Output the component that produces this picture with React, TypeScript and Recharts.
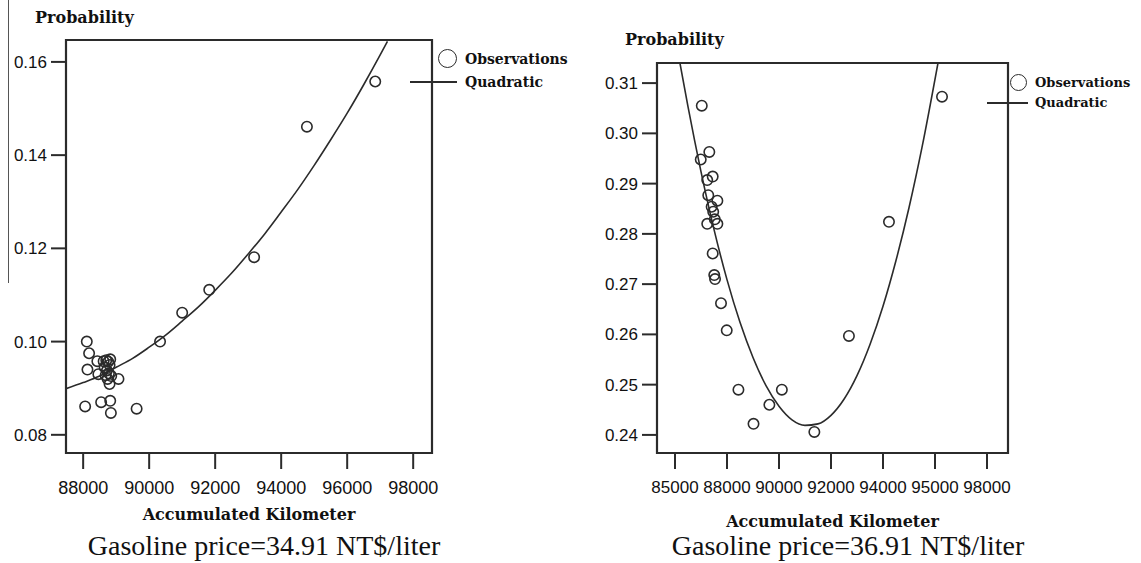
import React from "react";
import {
  ComposedChart,
  Scatter,
  Line,
  XAxis,
  YAxis,
  ReferenceArea,
} from "recharts";

// left panel: gasoline price 34.91
const LEFT_OBS_KM = [
  88110, 88180, 88130, 88430, 88460, 88620, 88700, 88760, 88820, 88650,
  88720, 88800, 88680, 88780, 88850, 88740, 89070, 88800, 88060, 88545,
  88820, 88840, 89620, 90330, 91000, 91820, 93180, 94780, 96850,
];
const LEFT_OBS_P = [
  0.1, 0.0975, 0.094, 0.0958, 0.093, 0.0958, 0.096, 0.0957, 0.0962, 0.0945,
  0.0938, 0.095, 0.0928, 0.0932, 0.0926, 0.092, 0.092, 0.0909, 0.0861, 0.087,
  0.0873, 0.0847, 0.0856, 0.1, 0.1062, 0.1111, 0.1181, 0.1461, 0.1558,
];
const LEFT_FIT_KM = [
  87480, 88000, 88500, 89000, 89500, 90000, 90500, 91000, 91500, 92000,
  92500, 93000, 93500, 94000, 94500, 95000, 95500, 96000, 96500, 97000, 97220,
];
const LEFT_FIT_P = [
  0.0899, 0.0912, 0.0926, 0.0945, 0.0964, 0.0988, 0.1014, 0.1044, 0.1075,
  0.111, 0.1147, 0.1188, 0.1231, 0.1278, 0.1326, 0.1378, 0.1433, 0.149,
  0.1551, 0.1615, 0.1644,
];
const LEFT_X_TICKS = [88000, 90000, 92000, 94000, 96000, 98000];
const LEFT_Y_TICKS = [0.08, 0.1, 0.12, 0.14, 0.16];

// right panel: gasoline price 36.91
const RIGHT_OBS_KM = [
  87030, 87320, 86990, 87450, 87240, 87280, 87630, 87410, 87470, 87240,
  87630, 87530, 87450, 87510, 87540, 87770, 87990, 88440, 89020, 89630,
  90110, 91360, 92690, 94230, 96270,
];
const RIGHT_OBS_P = [
  0.3055, 0.2963, 0.2948, 0.2914, 0.2907, 0.2877, 0.2866, 0.2854, 0.2844,
  0.282, 0.282, 0.2829, 0.2761, 0.2718, 0.271, 0.2662, 0.2608, 0.249, 0.2422,
  0.246, 0.249, 0.2406, 0.2597, 0.2824, 0.3073,
];
const RIGHT_FIT_KM = [
  86190, 86500, 87000, 87500, 88000, 88500, 89000, 89500, 90000, 90500,
  91000, 91500, 92000, 92500, 93000, 93500, 94000, 94500, 95000, 95500, 96115,
];
const RIGHT_FIT_P = [
  0.314, 0.3053, 0.2924, 0.2809, 0.2709, 0.2624, 0.2554, 0.2498, 0.2457,
  0.243, 0.2419, 0.2422, 0.2439, 0.2471, 0.2518, 0.258, 0.2656, 0.2747,
  0.2852, 0.2972, 0.314,
];
const RIGHT_X_TICKS = [86000, 88000, 90000, 92000, 94000, 96000, 98000];
const RIGHT_X_LABELS = ["85000", "88000", "90000", "92000", "94000", "95000", "98000"];
const RIGHT_Y_TICKS = [0.24, 0.25, 0.26, 0.27, 0.28, 0.29, 0.3, 0.31];

const INK = "#2b2b2b";
const SERIF_BOLD = "'DejaVu Serif', serif";

const zip = (km: number[], p: number[]) => km.map((k, i) => ({ km: k, p: p[i] }));

const Ring = (props: any) => (
  <circle cx={props.cx} cy={props.cy} r={5.2} fill="none" stroke={INK} strokeWidth={1.6} />
);

interface PanelProps {
  obs: { km: number; p: number }[];
  fit: { km: number; p: number }[];
  xDomain: [number, number];
  yDomain: [number, number];
  xTicks: number[];
  yTicks: number[];
  xFmt: (v: number) => string;
  width: number;
  margin: { top: number; right: number; left: number; bottom: number };
  yWidth: number;
  xFont: number;
}

function Panel({ obs, fit, xDomain, yDomain, xTicks, yTicks, xFmt, width, margin, yWidth, xFont }: PanelProps) {
  return (
    <ComposedChart width={width} height={500} margin={margin}>
      <XAxis
        dataKey="km"
        type="number"
        domain={xDomain}
        ticks={xTicks}
        allowDataOverflow
        axisLine={false}
        tickLine={{ stroke: INK, strokeWidth: 2 }}
        tickSize={16}
        tickMargin={12}
        height={40}
        tickFormatter={xFmt}
        tick={{ fontSize: xFont, fill: "#111", fontFamily: "'Liberation Sans', Arial, sans-serif" }}
        interval={0}
      />
      <YAxis
        dataKey="p"
        type="number"
        domain={yDomain}
        ticks={yTicks}
        allowDataOverflow
        axisLine={false}
        tickLine={{ stroke: INK, strokeWidth: 2 }}
        tickSize={15}
        tickMargin={4}
        width={yWidth}
        tickFormatter={(v: number) => v.toFixed(2)}
        tick={{ fontSize: 17, fill: "#111", fontFamily: "'Liberation Sans', Arial, sans-serif" }}
        interval={0}
      />
      <Scatter data={obs} dataKey="p" shape={<Ring />} isAnimationActive={false} />
      <Line
        data={fit}
        dataKey="p"
        type="monotone"
        dot={false}
        stroke={INK}
        strokeWidth={1.6}
        isAnimationActive={false}
      />
      <ReferenceArea
        x1={xDomain[0]}
        x2={xDomain[1]}
        y1={yDomain[0]}
        y2={yDomain[1]}
        fill="none"
        stroke={INK}
        strokeWidth={2.2}
        ifOverflow="visible"
      />
    </ComposedChart>
  );
}

const abs = (s: React.CSSProperties): React.CSSProperties => ({ position: "absolute", ...s });

function Legend({ cx, cy, r, lineX1, lineX2, lineY, textX, font }: any) {
  const txt: React.CSSProperties = {
    fontFamily: SERIF_BOLD,
    fontWeight: "bold",
    fontSize: font,
    color: "#111",
    lineHeight: "18px",
    whiteSpace: "nowrap",
  };
  return (
    <>
      <div
        style={abs({
          left: cx - r,
          top: cy - r,
          width: r * 2 - 3,
          height: r * 2 - 3,
          border: `1.5px solid ${INK}`,
          borderRadius: "50%",
        })}
      />
      <div style={abs({ ...txt, left: textX, top: cy - 9 })}>Observations</div>
      <div style={abs({ left: lineX1, top: lineY - 1, width: lineX2 - lineX1, height: 2, background: INK })} />
      <div style={abs({ ...txt, left: textX, top: lineY - 9 })}>Quadratic</div>
    </>
  );
}

export default function App() {
  const title: React.CSSProperties = {
    fontFamily: SERIF_BOLD,
    fontWeight: "bold",
    fontSize: 16,
    color: "#111",
    whiteSpace: "nowrap",
    lineHeight: "20px",
  };
  const caption: React.CSSProperties = {
    fontFamily: "'Liberation Serif', 'Times New Roman', serif",
    fontSize: 28,
    color: "#111",
    whiteSpace: "nowrap",
    lineHeight: "30px",
    textAlign: "center",
  };
  return (
    <div style={abs({ left: 0, top: 0, width: 1141, height: 563, background: "#fff", overflow: "hidden" })}>
      <div style={abs({ left: 8, top: 0, width: 1, height: 283, background: "#555" })} />

      <div style={abs({ left: 0, top: 0 })}>
        <Panel
          obs={zip(LEFT_OBS_KM, LEFT_OBS_P)}
          fit={zip(LEFT_FIT_KM, LEFT_FIT_P)}
          xDomain={[87480, 98570]}
          yDomain={[0.0761, 0.1647]}
          xTicks={LEFT_X_TICKS}
          yTicks={LEFT_Y_TICKS}
          xFmt={(v) => String(v)}
          width={570}
          margin={{ top: 40, right: 138, left: 0, bottom: 7 }}
          yWidth={66}
          xFont={18}
        />
      </div>
      <div style={abs({ left: 590, top: 0 })}>
        <Panel
          obs={zip(RIGHT_OBS_KM, RIGHT_OBS_P)}
          fit={zip(RIGHT_FIT_KM, RIGHT_FIT_P)}
          xDomain={[85308, 98808]}
          yDomain={[0.2364, 0.314]}
          xTicks={RIGHT_X_TICKS}
          yTicks={RIGHT_Y_TICKS}
          xFmt={(v) => RIGHT_X_LABELS[RIGHT_X_TICKS.indexOf(v)]}
          width={551}
          margin={{ top: 63, right: 133, left: 0, bottom: 7 }}
          yWidth={67}
          xFont={17}
        />
      </div>

      <div style={abs({ ...title, left: 35, top: 8 })}>Probability</div>
      <div style={abs({ ...title, left: 625, top: 30 })}>Probability</div>

      <Legend cx={448} cy={59} r={10} lineX1={410} lineX2={457} lineY={82} textX={465} font={14} />
      <Legend cx={1019} cy={83} r={9} lineX1={987} lineX2={1028} lineY={103} textX={1035} font={13} />

      <div style={abs({ ...title, left: 66, width: 366, top: 505, textAlign: "center" })}>
        Accumulated Kilometer
      </div>
      <div style={abs({ ...title, left: 657, width: 351, top: 512, textAlign: "center" })}>
        Accumulated Kilometer
      </div>

      <div style={abs({ ...caption, left: 64, width: 400, top: 531 })}>Gasoline price=34.91 NT$/liter</div>
      <div style={abs({ ...caption, left: 648, width: 400, top: 531 })}>Gasoline price=36.91 NT$/liter</div>
    </div>
  );
}
